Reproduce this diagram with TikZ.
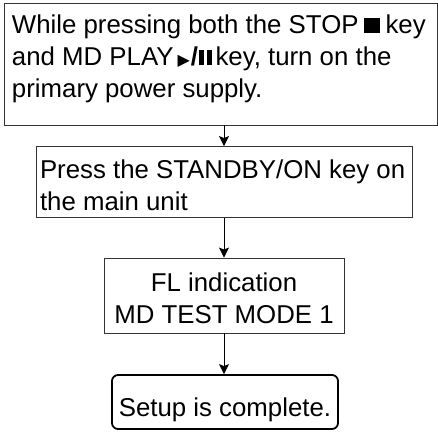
\documentclass[tikz,border=0pt]{standalone}
\usepackage{fontspec}
\setmainfont{Liberation Sans}
\newfontfamily\symfont{DejaVu Sans}
\usetikzlibrary{arrows.meta}
\newcommand{\stopglyph}{\rule{16pt}{15pt}}
\newcommand{\playglyph}{{\fontsize{16}{16}\selectfont\symfont ▶}}
\newcommand{\slashglyph}{\textbf{/}}
\newcommand{\pauseglyph}{\rule{5pt}{15pt}\kern2.5pt\rule{5pt}{15pt}}
\newcommand{\boxtext}[2]{\parbox[t]{#1}{\raggedright #2}}
\newcommand{\ctrtext}[2]{\parbox[t]{#1}{\centering #2}}
\tikzset{
  stepbox/.style={draw=black!80, line width=0.9pt, inner sep=0pt, font=\fontsize{25.8}{32}\selectfont},
  endbox/.style={draw=black, line width=1.8pt, rounded corners=6pt, inner sep=0pt, font=\fontsize{25.8}{32}\selectfont},
  arr/.style={draw=black, line width=0.9pt, -{Stealth[length=10pt,width=10pt,inset=2pt]}}
}
\begin{document}
\begin{tikzpicture}[x=1pt,y=-1pt]
\useasboundingbox (0,0) rectangle (438,431);
\node[stepbox, minimum width=433pt, text height=30pt, text depth=92pt] (a) at (220.5,64)
  {\boxtext{417pt}{\mbox{While pressing both the STOP\kern5pt\stopglyph\kern6pt key}\\\mbox{and MD PLAY\kern4pt\playglyph\kern1pt\slashglyph\kern1pt\pauseglyph\kern4pt key, turn on the}\\primary power supply.}};
\node[stepbox, minimum width=376pt, text height=31.5pt, text depth=39.5pt] (b) at (224,182)
  {\boxtext{368pt}{\mbox{Press the STANDBY/ON key on}\\the main unit}};
\node[stepbox, minimum width=240pt, text height=33pt, text depth=42pt] (c) at (224,295.5)
  {\ctrtext{240pt}{FL indication\\MD TEST MODE 1}};
\node[endbox, minimum width=226pt, text height=41.5pt, text depth=12.5pt] (d) at (225,402)
  {Setup is complete.};
\draw[arr] (a.south -| b.north) -- (b.north);
\draw[arr] (b.south) -- (c.north);
\draw[arr] (c.south) -- (c.south |- d.north);
\end{tikzpicture}
\end{document}
